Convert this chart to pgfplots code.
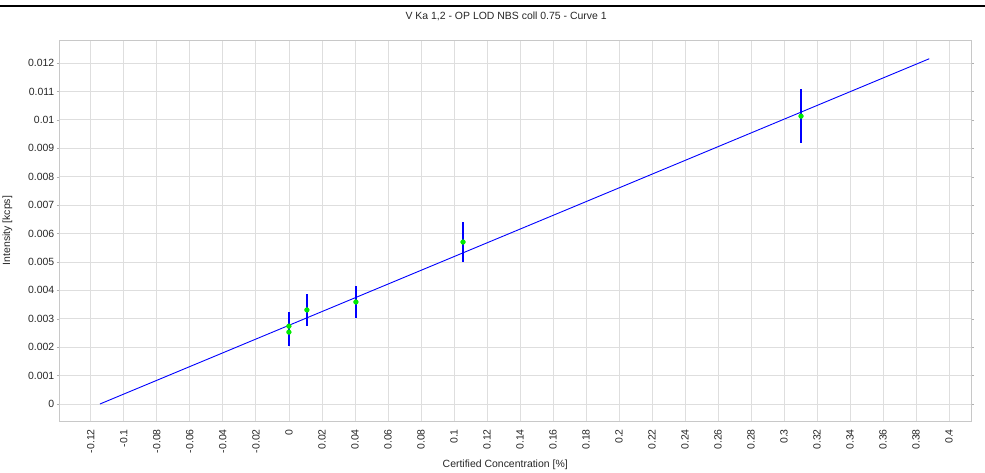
\documentclass[border=0pt]{standalone}
\usepackage{fontspec}
\setmainfont{Liberation Sans}
\usepackage{pgfplots}
\pgfplotsset{compat=1.18}
\definecolor{ptgreen}{RGB}{0,235,0}
\definecolor{gridgray}{RGB}{222,222,222}
\begin{document}
\begin{tikzpicture}[x=1bp,y=1bp]
\useasboundingbox (0,0) rectangle (985,473);
\fill[black] (0,465.5) rectangle (985,467.5);
\begin{axis}[
  at={(59.5bp,52bp)}, anchor=south west,
  scale only axis, width=911.5bp, height=381bp,
  xmin=-0.139, xmax=0.4133,
  ymin=-0.000598, ymax=0.01281,
  scaled x ticks=false, scaled y ticks=false,
  axis line style={gridgray!90!black},
  grid=major,
  major grid style={gridgray, line width=0.8bp},
  xtick={-0.12,-0.1,-0.08,-0.06,-0.04,-0.02,0,0.02,0.04,0.06,0.08,0.1,0.12,0.14,0.16,0.18,0.2,0.22,0.24,0.26,0.28,0.3,0.32,0.34,0.36,0.38,0.4},
  xticklabels={-0.12,-0.1,-0.08,-0.06,-0.04,-0.02,0,0.02,0.04,0.06,0.08,0.1,0.12,0.14,0.16,0.18,0.2,0.22,0.24,0.26,0.28,0.3,0.32,0.34,0.36,0.38,0.4},
  ytick={0,0.001,0.002,0.003,0.004,0.005,0.006,0.007,0.008,0.009,0.01,0.011,0.012},
  yticklabels={0,0.001,0.002,0.003,0.004,0.005,0.006,0.007,0.008,0.009,0.01,0.011,0.012},
  tick align=outside,
  major tick length=3bp,
  xtick style={draw=none},
  ytick style={gridgray!80!black},
  tick label style={font=\fontsize{10.5}{12}\selectfont, text=black!85, inner sep=0pt},
  xticklabel style={rotate=90, anchor=east},
  xticklabel shift=5bp,
  yticklabel style={anchor=east},
  yticklabel shift=2bp,
  title={V Ka 1,2 - OP LOD NBS coll 0.75 - Curve 1},
  title style={font=\fontsize{10.5}{12}\selectfont, text=black!85, at={(axis description cs:0.49,1.0656)}, anchor=center, yshift=-7bp},
  xlabel={Certified Concentration [\%]},
  xlabel style={font=\fontsize{10.5}{12}\selectfont, text=black!85, at={(axis description cs:0.489,-0.115)}, anchor=center},
  ylabel={Intensity [kcps]},
  ylabel style={font=\fontsize{10.5}{12}\selectfont, text=black!85, at={(axis description cs:-0.057,0.5)}, anchor=center, rotate=0},
]
\addplot[blue, line width=0.9bp] coordinates {(-0.1145,0) (0.388,0.01215)};
\addplot[draw=none, mark=none, blue, line width=1.3bp,
  error bars/.cd, y dir=both, y explicit, error mark=none,
  error bar style={blue, line width=1.3bp}]
  coordinates {
  (0,0.00274) +- (0,0.0005)
  (0,0.00253) +- (0,0.0005)
  (0.0109,0.00331) +- (0,0.00056)
  (0.0406,0.00359) +- (0,0.00058)
  (0.1055,0.00570) +- (0,0.00072)
  (0.3103,0.01013) +- (0,0.00096)
  };
\addplot[only marks, mark=*, mark size=2.4bp, mark options={draw=ptgreen, fill=ptgreen}]
  coordinates {
  (0,0.00274)
  (0,0.00253)
  (0.0109,0.00331)
  (0.0406,0.00359)
  (0.1055,0.00570)
  (0.3103,0.01013)
  };
\end{axis}
\end{tikzpicture}
\end{document}
